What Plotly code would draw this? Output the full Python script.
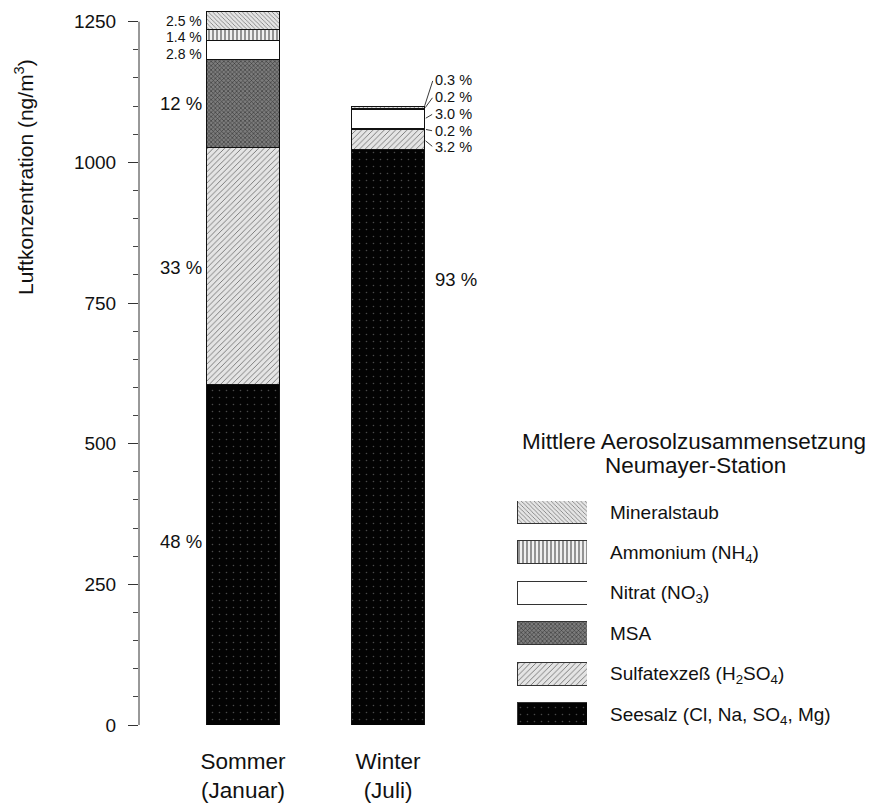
import plotly.graph_objects as go

# ---------------- data ----------------
seasons = [1, 2]
season_labels = ["Sommer<br>(Januar)", "Winter<br>(Juli)"]
components = ["Seesalz", "Sulfatexzeß", "MSA", "Nitrat", "Ammonium", "Mineralstaub"]
legend_labels = [
    "Seesalz (Cl, Na, SO<sub>4</sub>, Mg)",
    "Sulfatexzeß (H<sub>2</sub>SO<sub>4</sub>)",
    "MSA",
    "Nitrat (NO<sub>3</sub>)",
    "Ammonium (NH<sub>4</sub>)",
    "Mineralstaub",
]
seesalz = [606, 1023]
sulfat = [421, 35]
msa = [155, 2.2]
nitrat = [35, 33]
ammonium = [19, 2.2]
mineral = [32, 3.3]
pct_sommer = ["48 %", "33 %", "12 %", "2.8 %", "1.4 %", "2.5 %"]
pct_winter = ["93 %", "3.2 %", "0.2 %", "3.0 %", "0.2 %", "0.3 %"]
y_ticks = [0, 250, 500, 750, 1000, 1250]

series = [seesalz, sulfat, msa, nitrat, ammonium, mineral]

# ---------------- styles ----------------
FONT = "Liberation Sans, Arial, Helvetica, sans-serif"
patterns = [
    dict(shape=".", bgcolor="#030303", fgcolor="#4a4a4a", size=7, solidity=0.04, fillmode="replace"),
    dict(shape="/", bgcolor="#e4e4e4", fgcolor="#707070", size=4, solidity=0.22, fillmode="replace"),
    dict(shape="x", bgcolor="#7c7c7c", fgcolor="#333333", size=3, solidity=0.35, fillmode="replace"),
    dict(shape="", bgcolor="white", fgcolor="white"),
    dict(shape="|", bgcolor="#f0f0f0", fgcolor="#555555", size=4, solidity=0.3, fillmode="replace"),
    dict(shape="\\", bgcolor="#e4e4e4", fgcolor="#707070", size=3, solidity=0.25, fillmode="replace"),
]
base_colors = ["#030303", "#e4e4e4", "#7c7c7c", "white", "#f0f0f0", "#e4e4e4"]
bar_w = 0.497

fig = go.Figure()
for name, vals, pat, col in zip(components, series, patterns, base_colors):
    fig.add_trace(go.Bar(
        x=seasons, y=vals, name=name, width=bar_w,
        marker=dict(color=col, pattern=pat, line=dict(color="#111111", width=1)),
        showlegend=False, hoverinfo="name+y",
    ))

# legend swatches as a small horizontal-bar subplot
for i, (lab, pat, col) in enumerate(zip(legend_labels, patterns, base_colors)):
    fig.add_trace(go.Bar(
        y=[i], x=[1], orientation="h", width=0.57, xaxis="x2", yaxis="y2",
        marker=dict(color=col, pattern=pat, line=dict(color="#333333", width=1)),
        showlegend=False, hoverinfo="skip",
    ))

# ---------------- percentage labels ----------------
annotations = []
sommer_shift = [13.5, -1.4, 0, -3.8, -2, 0]
sommer_size = [18.5, 18.5, 18.5, 14, 14, 14]
cum = 0
for k in range(6):
    v = series[k][0]
    annotations.append(dict(
        x=seasons[0] - bar_w / 2, y=cum + v / 2, xref="x", yref="y",
        text=pct_sommer[k], showarrow=False, xanchor="right", yanchor="middle",
        xshift=-3, yshift=sommer_shift[k], font=dict(family=FONT, size=sommer_size[k], color="#111"),
    ))
    cum += v

winter_ay = [None, 7.4, 1.8, -5.3, -12.3, -27.8]
cum = 0
for k in range(6):
    v = series[k][1]
    yc = cum + v / 2
    if k == 0:
        annotations.append(dict(
            x=seasons[1] + bar_w / 2, y=yc, xref="x", yref="y",
            text=pct_winter[k], showarrow=False, xanchor="left", yanchor="middle",
            xshift=9, yshift=158, font=dict(family=FONT, size=18.5, color="#111"),
        ))
    else:
        annotations.append(dict(
            x=seasons[1] + bar_w / 2, y=yc, xref="x", yref="y",
            text=pct_winter[k], showarrow=True, arrowhead=0, arrowwidth=0.9, arrowcolor="#222",
            ax=9, ay=winter_ay[k], axref="pixel", ayref="pixel",
            xanchor="left", yanchor="middle", standoff=2, startstandoff=1,
            font=dict(family=FONT, size=14.5, color="#111"),
        ))
    cum += v

# y-axis title
annotations.append(dict(
    x=24, y=177, xref="paper", yref="paper", text="Luftkonzentration (ng/m<sup>3</sup>)",
    showarrow=False, textangle=-90, font=dict(family=FONT, size=21, color="#111"),
))
# legend title
annotations += [
    dict(xref="paper", yref="paper", x=0, y=0, text="Mittlere Aerosolzusammensetzung",
         showarrow=False, font=dict(family=FONT, size=22.5, color="#111")),
    dict(xref="paper", yref="paper", x=0, y=0, text="Neumayer-Station",
         showarrow=False, font=dict(family=FONT, size=22.5, color="#111")),
]

# convert pixel-placed annotations (y-title, legend title) to paper coords
W, H = 878, 812
ML, MR, MT, MB = 139, 0, 2, 87
PW, PH = W - ML - MR, H - MT - MB


def px_to_paper(px, py):
    return (px - ML) / PW, (H - MB - py) / PH


annotations[-3]["x"], annotations[-3]["y"] = px_to_paper(24, 177)
annotations[-2]["x"], annotations[-2]["y"] = px_to_paper(694, 441)
annotations[-1]["x"], annotations[-1]["y"] = px_to_paper(695, 466)
for a in annotations[-3:]:
    a["xanchor"] = "center"
    a["yanchor"] = "middle"

fig.update_layout(
    width=W, height=H,
    margin=dict(l=ML, r=MR, t=MT, b=MB, pad=0),
    barmode="stack",
    paper_bgcolor="white", plot_bgcolor="white",
    font=dict(family=FONT, color="#111"),
    annotations=annotations,
    xaxis=dict(
        domain=[0, 365 / PW], range=[0.2828, 2.80], showline=False, showgrid=False, zeroline=False,
        tickvals=seasons, ticktext=season_labels, ticks="", tickfont=dict(family=FONT, size=22.5, color="#111"),
        ticklabelstandoff=20,
    ),
    yaxis=dict(
        domain=[0, 1], range=[0, 1285], showgrid=False, zeroline=False, showline=False,
        tickvals=y_ticks, ticks="outside", ticklen=10, tickwidth=1, tickcolor="#333",
        tickfont=dict(family=FONT, size=19, color="#111"), ticklabelstandoff=8,
        minor=dict(dtick=50, tick0=0, ticks="outside", ticklen=5, tickwidth=1, tickcolor="#444"),
    ),
    xaxis2=dict(domain=[(517 - ML) / PW, (587 - ML) / PW], range=[0, 1], visible=False, anchor="y2"),
    yaxis2=dict(
        domain=[0, 5.544 * 40.4 / PH], range=[-0.272, 5.272], anchor="x2", side="right",
        tickvals=list(range(6)), ticktext=legend_labels, ticks="", showgrid=False, zeroline=False,
        showline=False, tickfont=dict(family=FONT, size=19, color="#111"), ticklabelstandoff=22,
    ),
    shapes=[dict(type="line", xref="x domain", yref="y", x0=0, x1=0, y0=0, y1=y_ticks[-1],
                 line=dict(color="#333", width=1))],
)

fig.write_html("out.html")
